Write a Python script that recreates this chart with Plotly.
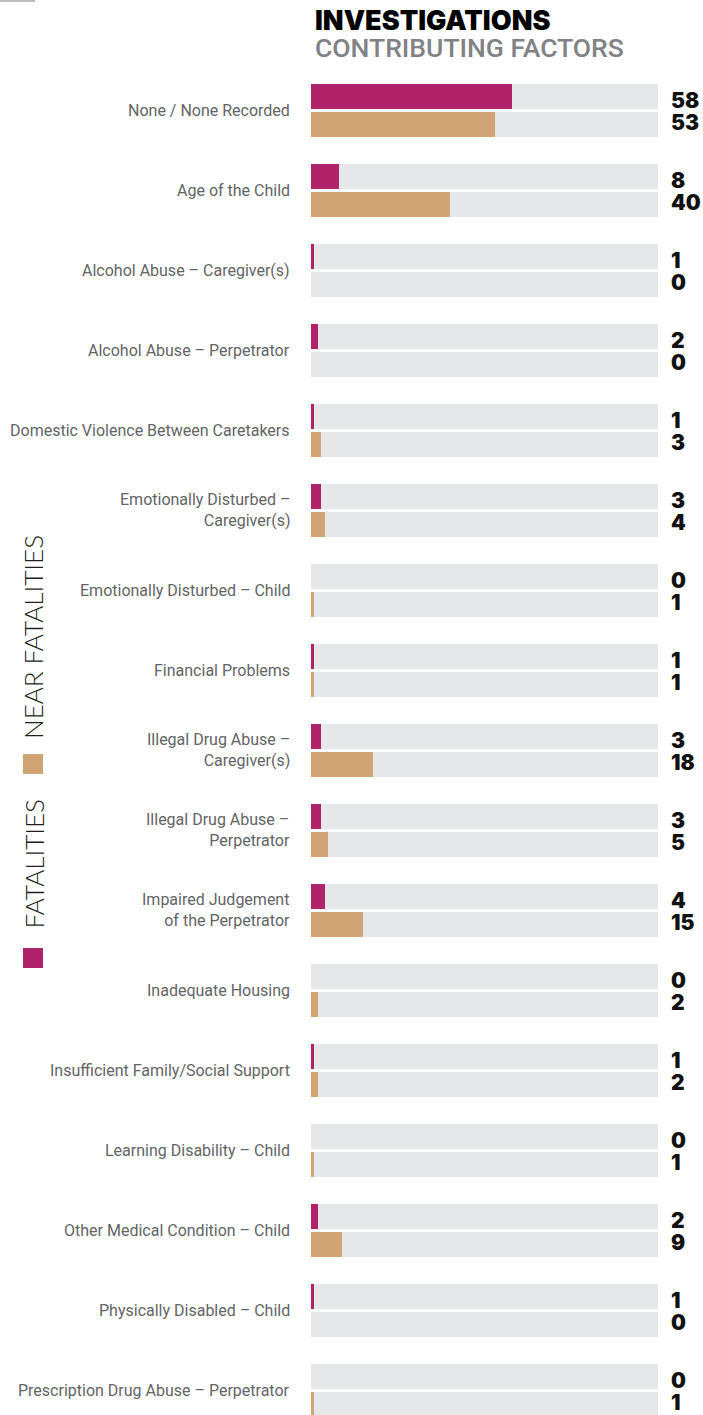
import plotly.graph_objects as go

categories = [
    "None / None Recorded",
    "Age of the Child",
    "Alcohol Abuse – Caregiver(s)",
    "Alcohol Abuse – Perpetrator",
    "Domestic Violence Between Caretakers",
    "Emotionally Disturbed –<br>Caregiver(s)",
    "Emotionally Disturbed – Child",
    "Financial Problems",
    "Illegal Drug Abuse –<br>Caregiver(s)",
    "Illegal Drug Abuse –<br>Perpetrator",
    "Impaired Judgement<br>of the Perpetrator",
    "Inadequate Housing",
    "Insufficient Family/Social Support",
    "Learning Disability – Child",
    "Other Medical Condition – Child",
    "Physically Disabled – Child",
    "Prescription Drug Abuse – Perpetrator",
]
fatalities = [58, 8, 1, 2, 1, 3, 0, 1, 3, 3, 4, 0, 1, 0, 2, 1, 0]
near_fatalities = [53, 40, 0, 0, 3, 4, 1, 1, 18, 5, 15, 2, 2, 1, 9, 0, 1]
scale_max = 100

title = "INVESTIGATIONS"
subtitle = "CONTRIBUTING FACTORS"
series_names = ["FATALITIES", "NEAR FATALITIES"]

C_FAT = "#b0236b"
C_NEAR = "#d0a474"
C_BG = "#e6e7e8"

W, H = 703, 1415
n = len(categories)
idx = list(range(n))
off = 0.174
bw = 0.3125
y_fat = [i - off for i in idx]
y_near = [i + off for i in idx]

# axis ranges chosen so that 0 sits at x=310.7px, 3.475px per unit; 80px per category
x0px, pxu = 310.7, 3.475
xr = [(0 - x0px) / pxu, (W - x0px) / pxu]
yc0, pitch = 110.4, 80.0
yr = [(H - yc0) / pitch, (0 - yc0) / pitch]

fig = go.Figure()
fig.add_trace(go.Bar(x=[scale_max] * (2 * n), y=y_fat + y_near, orientation="h",
                     width=bw, marker=dict(color=C_BG, line=dict(width=0)),
                     hoverinfo="skip", showlegend=False))
fig.add_trace(go.Bar(x=fatalities, y=y_fat, orientation="h", width=bw,
                     marker=dict(color=C_FAT, line=dict(width=0)),
                     name=series_names[0], showlegend=False))
fig.add_trace(go.Bar(x=near_fatalities, y=y_near, orientation="h", width=bw,
                     marker=dict(color=C_NEAR, line=dict(width=0)),
                     name=series_names[1], showlegend=False))

annotations = []
val_font = dict(family="Inter, Lato, DejaVu Sans", size=21, color="#111111", weight=900)
lab_font = dict(family="Roboto, sans-serif", size=16, color="#636466")
xv = (669 - x0px) / pxu
xl = (292 - x0px) / pxu
for i in idx:
    annotations.append(dict(x=xv, y=i - 0.125, xref="x", yref="y", text=str(fatalities[i]),
                            showarrow=False, xanchor="left", yanchor="middle", font=val_font,
                            height=20, valign="middle"))
    annotations.append(dict(x=xv, y=i + 0.14, xref="x", yref="y", text=str(near_fatalities[i]),
                            showarrow=False, xanchor="left", yanchor="middle", font=val_font,
                            height=20, valign="middle"))
    annotations.append(dict(x=xl, y=i, xref="x", yref="y", text=categories[i],
                            showarrow=False, xanchor="right", yanchor="middle", align="right",
                            font=lab_font))

def px(x):
    return x / W

def py(y):
    return 1 - y / H

annotations.append(dict(x=px(313), y=py(2), xref="paper", yref="paper", text=title,
                        showarrow=False, xanchor="left", yanchor="top",
                        font=dict(family="Inter, Lato, DejaVu Sans", size=27, color="#000000", weight=900)))
annotations.append(dict(x=px(313), y=py(30), xref="paper", yref="paper", text=subtitle,
                        showarrow=False, xanchor="left", yanchor="top",
                        font=dict(family="Roboto, Lato, sans-serif", size=26.5, color="#808285", weight=500)))
leg_font = dict(family="Lato, Roboto, sans-serif", size=26, color="#231f20", weight=300)
annotations.append(dict(x=px(33), y=py(741), xref="paper", yref="paper", text=series_names[1],
                        showarrow=False, textangle=-90, xanchor="center", yanchor="bottom",
                        font=leg_font))
annotations.append(dict(x=px(33), y=py(931), xref="paper", yref="paper", text=series_names[0],
                        showarrow=False, textangle=-90, xanchor="center", yanchor="bottom",
                        font=leg_font))

shapes = [
    dict(type="rect", xref="paper", yref="paper", x0=px(23), x1=px(43), y0=py(774), y1=py(754),
         fillcolor=C_NEAR, line=dict(width=0)),
    dict(type="rect", xref="paper", yref="paper", x0=px(23), x1=px(43), y0=py(968), y1=py(948),
         fillcolor=C_FAT, line=dict(width=0)),
    dict(type="rect", xref="paper", yref="paper", x0=0, x1=px(35), y0=py(2), y1=1,
         fillcolor="#bdbdbd", line=dict(width=0)),
]

fig.update_layout(
    width=W, height=H,
    margin=dict(l=0, r=0, t=0, b=0),
    paper_bgcolor="white", plot_bgcolor="white",
    barmode="overlay", bargap=0,
    xaxis=dict(range=xr, visible=False, fixedrange=True),
    yaxis=dict(range=yr, visible=False, fixedrange=True),
    annotations=annotations, shapes=shapes,
    showlegend=False,
)

fig.write_html("out.html", config={"displayModeBar": False},
               post_script="document.body.style.margin='0';document.body.style.overflow='hidden';")
